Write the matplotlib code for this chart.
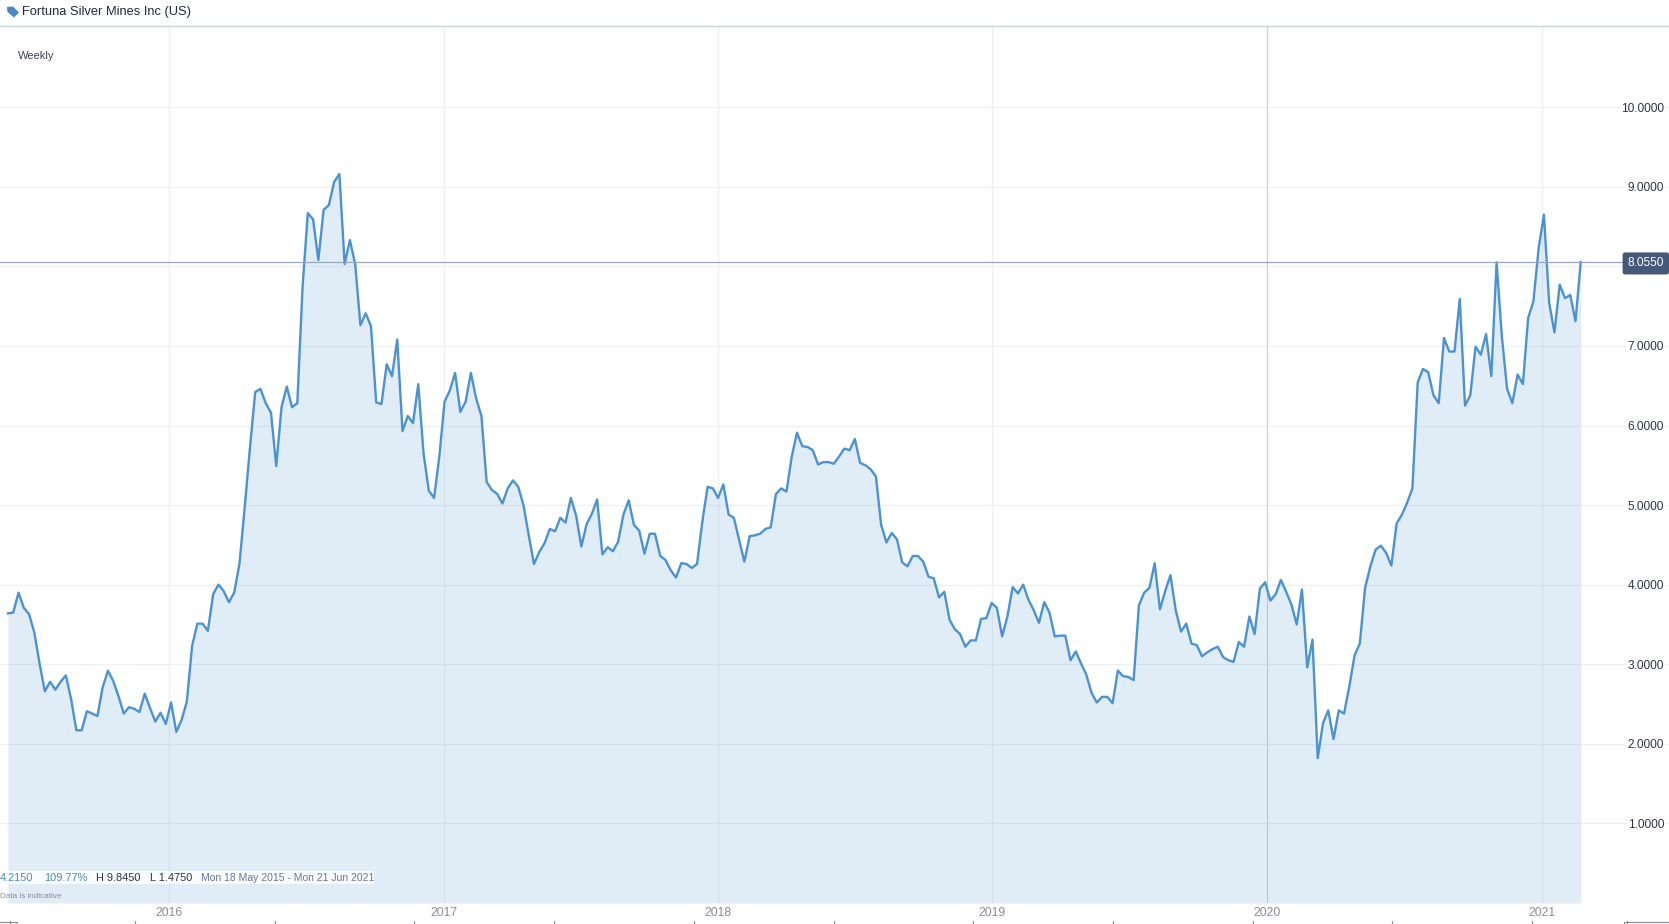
import matplotlib
matplotlib.use("Agg")
import matplotlib.pyplot as plt
from matplotlib.patches import Polygon, Rectangle
import pandas as pd

plt.rcParams['font.family'] = ['Liberation Sans', 'DejaVu Sans']

# weekly closes
prices2015 = [3.64, 3.65, 3.90, 3.71, 3.63, 3.40, 3.01, 2.66, 2.78, 2.68, 2.78, 2.86, 2.56, 2.17, 2.17,
              2.41, 2.38, 2.35, 2.71, 2.92, 2.79, 2.60, 2.38, 2.46, 2.44, 2.40, 2.63, 2.45, 2.28, 2.39]
prices2016 = [2.25, 2.52, 2.15, 2.30, 2.53, 3.23, 3.51, 3.51, 3.42, 3.88, 4.00, 3.92, 3.78, 3.90, 4.26,
              4.97, 5.72, 6.42, 6.46, 6.28, 6.16, 5.49, 6.23, 6.49, 6.23, 6.28, 7.74, 8.67, 8.59, 8.08,
              8.71, 8.77, 9.06, 9.16, 8.03, 8.33, 8.03, 7.26, 7.41, 7.25, 6.29, 6.27, 6.77, 6.62, 7.08,
              5.93, 6.12, 6.03, 6.52, 5.65, 5.18, 5.09, 5.61]
prices2017 = [6.30, 6.44, 6.66, 6.17, 6.30, 6.66, 6.34, 6.12, 5.29, 5.19, 5.14, 5.02, 5.21, 5.31, 5.23,
              5.00, 4.62, 4.26, 4.41, 4.52, 4.70, 4.67, 4.84, 4.78, 5.09, 4.87, 4.48, 4.76, 4.89, 5.07,
              4.38, 4.47, 4.42, 4.54, 4.88, 5.06, 4.75, 4.68, 4.39, 4.64, 4.64, 4.36, 4.31, 4.18, 4.09,
              4.27, 4.26, 4.21, 4.26, 4.79, 5.23, 5.21, 5.09]
prices2018 = [5.26, 4.88, 4.84, 4.56, 4.29, 4.61, 4.62, 4.64, 4.70, 4.72, 5.14, 5.21, 5.17, 5.61, 5.91,
              5.74, 5.73, 5.69, 5.51, 5.54, 5.54, 5.52, 5.61, 5.71, 5.69, 5.83, 5.53, 5.50, 5.45, 5.36,
              4.75, 4.53, 4.65, 4.57, 4.28, 4.23, 4.36, 4.36, 4.29, 4.10, 4.08, 3.84, 3.91, 3.56, 3.44,
              3.38, 3.22, 3.30, 3.30, 3.57, 3.58, 3.77]
prices2019 = [3.71, 3.35, 3.60, 3.97, 3.89, 4.00, 3.81, 3.68, 3.52, 3.78, 3.65, 3.35, 3.36, 3.36, 3.05,
              3.16, 3.01, 2.87, 2.64, 2.52, 2.59, 2.59, 2.51, 2.92, 2.85, 2.84, 2.80, 3.74, 3.90, 3.96,
              4.27, 3.69, 3.92, 4.12, 3.68, 3.41, 3.51, 3.26, 3.24, 3.10, 3.15, 3.19, 3.22, 3.09, 3.05,
              3.03, 3.28, 3.22, 3.60, 3.38, 3.95, 4.03]
prices2020 = [3.80, 3.88, 4.06, 3.91, 3.75, 3.50, 3.94, 2.96, 3.31, 1.82, 2.26, 2.42, 2.06, 2.42, 2.38,
              2.72, 3.11, 3.26, 3.96, 4.23, 4.44, 4.49, 4.40, 4.24, 4.77, 4.88, 5.03, 5.21, 6.54, 6.71,
              6.67, 6.38, 6.28, 7.10, 6.93, 6.93, 7.59, 6.25, 6.38, 6.99, 6.89, 7.15, 6.62, 8.05, 7.12,
              6.46, 6.28, 6.64, 6.52, 7.35, 7.56, 8.23]
prices2021 = [8.65, 7.54, 7.17, 7.77, 7.60, 7.64, 7.31, 8.055]

prices = prices2015 + prices2016 + prices2017 + prices2018 + prices2019 + prices2020 + prices2021
dates = pd.date_range("2015-06-01", periods=len(prices), freq="7D")

yearTicks = [pd.Timestamp(f"{y}-01-01") for y in range(2016, 2022)]
yearLabels = ["2016", "2017", "2018", "2019", "2020", "2021"]
priceTicks = [1, 2, 3, 4, 5, 6, 7, 8, 9, 10]
# the 8.0000 label sits behind the last price badge
priceLabels = ["1.0000", "2.0000", "3.0000", "4.0000", "5.0000", "6.0000", "7.0000", "", "9.0000", "10.0000"]

LINE = "#4b92d3"
FILL = "#4b96d0"
GRID = "#eeeff1"
SLATE = "#6a7396"

W, H = 1669, 924
fig = plt.figure(figsize=(W / 100, H / 100), dpi=100, facecolor="white")

# main chart, bottom edge at 903px and top at 26px
ax = fig.add_axes([0, (H - 903) / H, 1, (903 - 26) / H])
for s in ax.spines.values():
    s.set_visible(False)

pxPerWeek = 5.26
left = dates[0] - pd.Timedelta(days=7 * 8 / pxPerWeek)
right = dates[0] + pd.Timedelta(days=7 * (W - 8) / pxPerWeek)
ax.set_xlim(left, right)
ax.set_ylim(0, 11.02)

for p in priceTicks:
    ax.axhline(p, color=GRID, lw=0.85, zorder=1)
for t in yearTicks:
    col = "#c9d1d5" if t.year == 2020 else GRID
    ax.axvline(t, color=col, lw=0.85, zorder=1)

ax.fill_between(dates, prices, 0, color=FILL, alpha=0.17, lw=0, zorder=2)
ax.plot(dates, prices, color=LINE, lw=1.7, solid_joinstyle="round", zorder=3)
ax.axhline(prices[-1], xmax=1624 / W, color="#9aa6bd", lw=0.9, zorder=4)

ax.set_xticks(yearTicks)
ax.set_xticklabels(yearLabels, fontsize=8.8, color="#8b8b99")
ax.tick_params(axis="x", length=0, pad=3)
ax.yaxis.tick_right()
ax.set_yticks(priceTicks)
ax.set_yticklabels(priceLabels, fontsize=8.6, color="#2c3345", ha="right")
ax.tick_params(axis="y", length=0, pad=-3.6)
for lab in ax.get_yticklabels():
    if lab.get_text():
        lab.set_bbox(dict(fc="white", ec="none", pad=1))

ax.text(1664 / W, prices[-1], f"{prices[-1]:.4f}", transform=ax.get_yaxis_transform(),
        ha="right", va="center_baseline", fontsize=8.6, color="white", zorder=6,
        bbox=dict(boxstyle="round,pad=0.42,rounding_size=0.2", fc="#45587a", ec="none"))

# page furniture in pixel coordinates
over = fig.add_axes([0, 0, 1, 1], facecolor="none")
over.set_xlim(0, W)
over.set_ylim(H, 0)
over.axis("off")

over.plot([0, W], [26, 26], color="#ccd3d6", lw=1.0)
over.add_patch(Polygon([(7, 7), (13, 6.5), (19, 12.5), (14, 17.5), (7.5, 12)], closed=True, fc="#4b86c4", ec="none"))
over.text(22, 11.5, "Fortuna Silver Mines Inc (US)", fontsize=9.3, color="#1f2a3c", va="center", ha="left")
over.text(18, 56, "Weekly", fontsize=8, color="#3a4256", va="center", ha="left")

over.add_patch(Rectangle((0, 871), 374, 13, fc="white", ec="none", alpha=0.85))
over.text(0, 878, "4.2150", fontsize=7.9, color="#4f86bd", va="center", ha="left")
over.text(44, 878, "109.77%", fontsize=7.9, color="#4f86bd", va="center", ha="left")
over.text(96, 878, "H 9.8450", fontsize=7.9, color="#2c3345", va="center", ha="left")
over.text(150, 878, "L 1.4750", fontsize=7.9, color="#2c3345", va="center", ha="left")
over.text(201, 878, "Mon 18 May 2015 - Mon 21 Jun 2021", fontsize=7.5, color=SLATE, va="center", ha="left")
over.text(0, 896, "Data is indicative", fontsize=5.9, color="#8b8b99", va="center", ha="left")

# cut off navigator strip along the bottom edge
for k in range(11):
    x = 135 + 139.7 * k
    over.plot([x, x], [921, 924], color="#8b8b99", lw=0.8)
over.plot([0, 17, 17], [921.5, 921.5, 924], color="#8b8b99", lw=0.8)
over.plot([10, 10], [921, 924], color="#8b8b99", lw=0.8)
over.plot([1624, 1624, W], [924, 921.5, 921.5], color="#8b8b99", lw=0.8)
over.plot([1627, 1627], [921, 924], color="#8b8b99", lw=0.8)

fig.savefig("out.png", dpi=100)
